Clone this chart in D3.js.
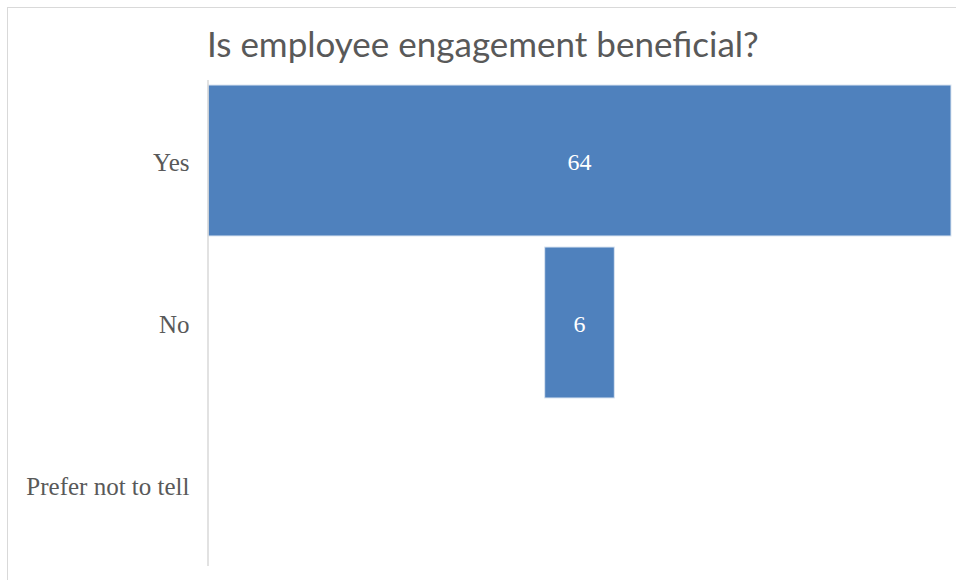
<!DOCTYPE html>
<html>
<head>
<meta charset="utf-8">
<script src="https://cdn.jsdelivr.net/npm/d3@7"></script>
<style>
  html, body { margin: 0; padding: 0; background: #fff; }
  svg { display: block; }
</style>
</head>
<body>
<svg id="chart" width="956" height="580"></svg>
<script>
// Survey answers and their counts
const categories = ["Yes", "No", "Prefer not to tell"];
const counts = [64, 6, 0];
const chartTitle = "Is employee engagement beneficial?";

const W = 956, H = 580;
const plot = { left: 208, right: 951, top: 79.5, bottom: 565.5 };
const centerX = (plot.left + plot.right) / 2;

const svg = d3.select("#chart");

// chart frame
svg.append("rect")
  .attr("x", 7.5).attr("y", 7.5)
  .attr("width", 1000).attr("height", 1000)
  .attr("fill", "#fff")
  .attr("stroke", "#d9d9d9").attr("stroke-width", 1);

const y = d3.scaleBand()
  .domain(categories)
  .range([plot.top, plot.bottom])
  .paddingInner(0.068)
  .paddingOuter(0.034);

// width of a bar, centred on the plot's midline
const w = d3.scaleLinear()
  .domain([0, d3.max(counts)])
  .range([0, plot.right - plot.left]);

const data = categories.map((c, i) => ({ cat: c, value: counts[i] }));

// bars
svg.append("g").selectAll("rect")
  .data(data.filter(d => d.value > 0))
  .join("rect")
  .attr("x", d => centerX - w(d.value) / 2)
  .attr("y", d => y(d.cat))
  .attr("width", d => w(d.value))
  .attr("height", y.bandwidth())
  .attr("fill", "#4f81bd")
  .attr("stroke", "#dbe5f1")
  .attr("stroke-width", 1);

// value labels
svg.append("g").selectAll("text")
  .data(data.filter(d => d.value > 0))
  .join("text")
  .attr("x", centerX)
  .attr("y", d => y(d.cat) + y.bandwidth() / 2)
  .attr("dy", "0.4em")
  .attr("text-anchor", "middle")
  .attr("fill", "#ffffff")
  .style("font-family", "'Liberation Serif', serif")
  .style("font-size", "24px")
  .text(d => d.value);

// category axis
const axis = svg.append("g")
  .attr("transform", `translate(${plot.left - 0.5},0)`)
  .call(d3.axisLeft(y).tickSize(0).tickPadding(18));
axis.select(".domain")
  .attr("stroke", "#d9d9d9")
  .attr("stroke-width", 1.5);
axis.selectAll(".tick text")
  .attr("fill", "#595959")
  .attr("dy", "0.4em")
  .style("font-family", "'Liberation Serif', serif")
  .style("font-size", "25px");

// title
svg.append("text")
  .attr("x", 207)
  .attr("y", 57)
  .attr("fill", "#595959")
  .style("font-family", "Lato, 'Open Sans', sans-serif")
  .style("font-weight", 400)
  .style("font-size", "35px")
  .text(chartTitle);
</script>
</body>
</html>
